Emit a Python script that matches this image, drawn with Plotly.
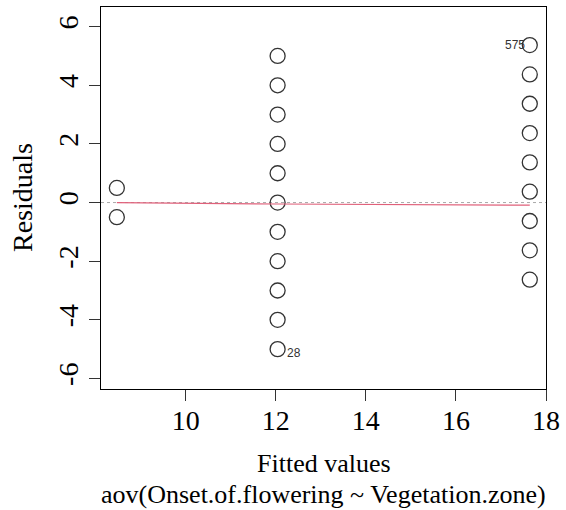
import plotly.graph_objects as go

# Data
fitted = [8.47, 8.47] + [12.04] * 11 + [17.64] * 9
residuals = [0.5, -0.5,
             5, 4, 3, 2, 1, 0, -1, -2, -3, -4, -5,
             5.37, 4.37, 3.37, 2.37, 1.37, 0.37, -0.63, -1.63, -2.63]
smooth_x = [8.47, 12.04, 17.64]
smooth_y = [0.0, -0.05, -0.09]
x_ticks = [10, 12, 14, 16, 18]
y_ticks = [-6, -4, -2, 0, 2, 4, 6]
y_tick_text = ["-6", "-4", "-2", "0", "2", "4", "6"]
label_575 = (17.64, 5.37, "575")
label_28 = (12.04, -5, "28")
x_title = "Fitted values"
sub_title = "aov(Onset.of.flowering ~ Vegetation.zone)"

serif = "Liberation Serif, Times New Roman, serif"
sans = "Liberation Sans, Arial, sans-serif"
FS = 28

fig = go.Figure()
fig.add_trace(go.Scatter(
    x=fitted, y=residuals, mode="markers",
    marker=dict(symbol="circle-open", size=15, color="#333333",
                line=dict(width=1.3, color="#333333")),
    showlegend=False, hoverinfo="skip"))
fig.add_trace(go.Scatter(
    x=smooth_x, y=smooth_y, mode="lines",
    line=dict(color="#E0607A", width=1.2),
    showlegend=False, hoverinfo="skip"))

fig.add_shape(type="line", xref="paper", x0=0, x1=1, yref="y", y0=0, y1=0,
              line=dict(color="#AAAAAA", width=1, dash="dot"), layer="below")

fig.add_annotation(x=label_575[0], y=label_575[1], text=label_575[2],
                   showarrow=False, xanchor="right", xshift=-3, yshift=0,
                   font=dict(family=sans, size=12, color="#333333"))
fig.add_annotation(x=label_28[0], y=label_28[1], text=label_28[2],
                   showarrow=False, xanchor="left", xshift=7, yshift=-4,
                   font=dict(family=sans, size=12, color="#333333"))

fig.add_annotation(xref="paper", yref="paper", x=0.5, y=0, yshift=-74,
                   text=x_title, showarrow=False, yanchor="middle",
                   borderpad=0,
                   font=dict(family=serif, size=26, color="black"))
fig.add_annotation(xref="paper", yref="paper", x=0.5, y=0, yshift=-105,
                   text=sub_title, showarrow=False, yanchor="middle",
                   borderpad=0,
                   font=dict(family=serif, size=26, color="black"))
fig.add_annotation(xref="paper", yref="paper", x=0, y=0.5, xshift=-79,
                   text="Residuals", showarrow=False, textangle=-90,
                   xanchor="center", yanchor="middle",
                   font=dict(family=serif, size=FS, color="black"))

fig.update_layout(
    width=566, height=510,
    margin=dict(l=101, r=15, t=6, b=121),
    paper_bgcolor="white", plot_bgcolor="white",
    font=dict(family=serif, size=FS, color="black"),
    showlegend=False,
)
fig.update_xaxes(range=[8.118, 18.0], tickvals=x_ticks, ticks="outside",
                 ticklen=11, tickwidth=1, tickcolor="#333333",
                 ticklabelstandoff=-5,
                 showline=True, linecolor="black", linewidth=1, mirror=True,
                 showgrid=False, zeroline=False,
                 tickfont=dict(family=serif, size=FS, color="black"))
fig.update_yaxes(range=[-6.36, 6.67], tickvals=y_ticks, ticktext=y_tick_text,
                 ticks="outside", ticklen=11, tickwidth=1, tickcolor="#333333",
                 tickangle=-90,
                 showline=True, linecolor="black", linewidth=1, mirror=True,
                 showgrid=False, zeroline=False,
                 tickfont=dict(family=serif, size=FS, color="black"))

fig.write_html("out.html")
